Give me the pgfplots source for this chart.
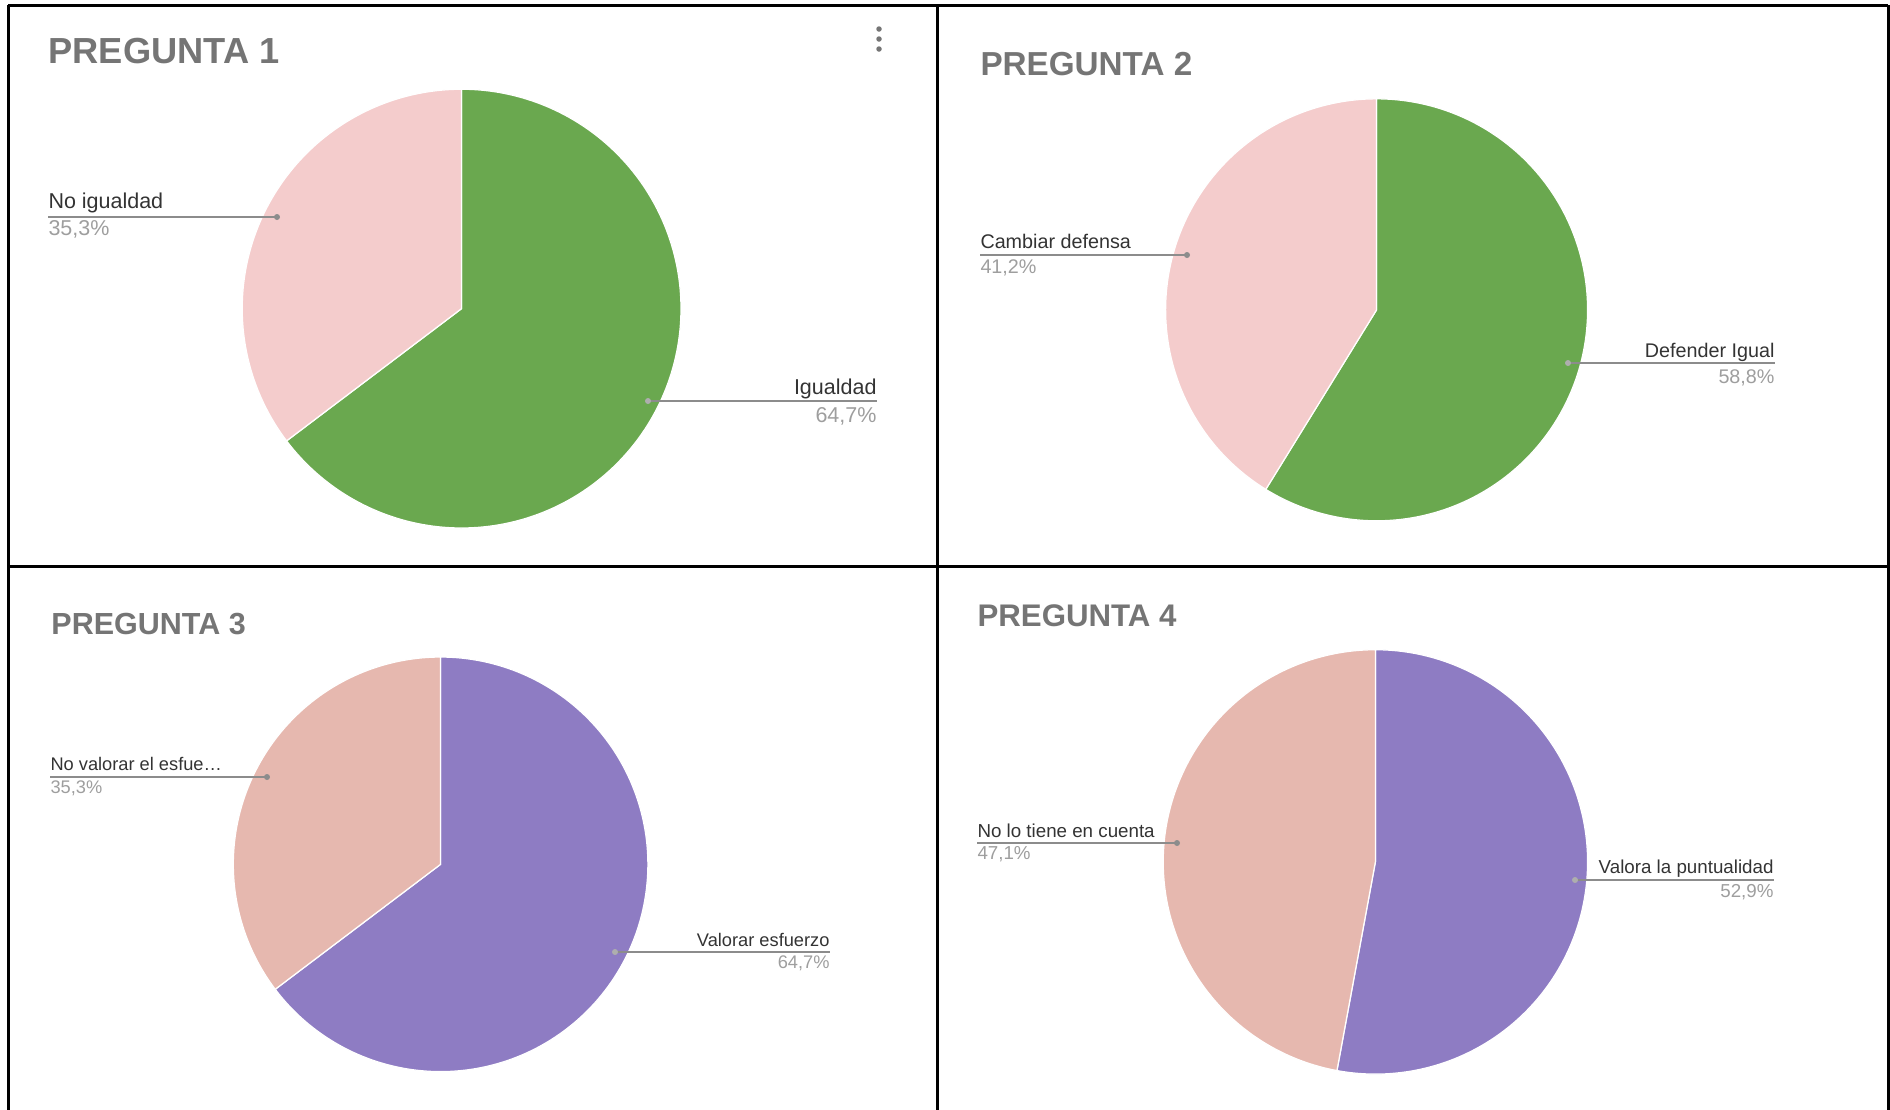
\documentclass[border=0pt]{standalone}
\usepackage{fontspec}
\setmainfont{Liberation Sans}
\usepackage{pgfplots}
\pgfplotsset{compat=1.18}
\definecolor{cgreen}{HTML}{6AA84F}
\definecolor{cpink}{HTML}{F4CCCC}
\definecolor{cpurple}{HTML}{8E7CC3}
\definecolor{csalmon}{HTML}{E6B8AF}
\definecolor{ctitle}{HTML}{757575}
\definecolor{clabel}{HTML}{333333}
\definecolor{cpct}{HTML}{9E9E9E}
\definecolor{cline}{HTML}{8C8C8C}
\tikzset{
  ttl/.style={anchor=base west,inner sep=0pt,text=ctitle,font=\fontsize{#1}{#1}\selectfont\bfseries},
  lbl/.style={inner sep=0pt,text=clabel,font=\fontsize{#1}{#1}\selectfont},
  pct/.style={inner sep=0pt,text=cpct,font=\fontsize{#1}{#1}\selectfont},
  lead/.style={draw=cline,line width=0.8pt},
}
\begin{document}
\begin{tikzpicture}
\path[use as bounding box] (0,0) rectangle (756pt,-444pt);
\begin{axis}[at={(0,0)},anchor=north west,hide axis,x=0.4pt,y=0.4pt,
  xmin=0,xmax=1890,ymin=0,ymax=1110,y dir=reverse,clip=false]
% ---- frame (table grid)
\draw[black,line width=1.2pt] (8,5) -- (1888,5);
\draw[black,line width=1.2pt] (9,5) -- (9,1110);
\draw[black,line width=1.2pt] (937,5) -- (937,1110);
\draw[black,line width=1.2pt] (1888,5) -- (1888,1110);
\draw[black,line width=1.2pt] (9,566) -- (1888,566);
% ---- Pregunta 1: Igualdad 64.7, No igualdad 35.3
\addplot[draw=white,line width=0.5pt,fill=cgreen,domain=90:90-3.6*64.7,samples=160]
  ({461.6+219.4*cos(x)},{308.6-219.4*sin(x)}) -- (461.6,308.6) -- cycle;
\addplot[draw=white,line width=0.5pt,fill=cpink,domain=90-3.6*64.7:-270,samples=100]
  ({461.6+219.4*cos(x)},{308.6-219.4*sin(x)}) -- (461.6,308.6) -- cycle;
% ---- Pregunta 2: Defender Igual 58.8, Cambiar defensa 41.2
\addplot[draw=white,line width=0.5pt,fill=cgreen,domain=90:90-3.6*58.8,samples=160]
  ({1376.6+211*cos(x)},{309.8-211*sin(x)}) -- (1376.6,309.8) -- cycle;
\addplot[draw=white,line width=0.5pt,fill=cpink,domain=90-3.6*58.8:-270,samples=100]
  ({1376.6+211*cos(x)},{309.8-211*sin(x)}) -- (1376.6,309.8) -- cycle;
% ---- Pregunta 3: Valorar esfuerzo 64.7, No valorar 35.3
\addplot[draw=white,line width=0.5pt,fill=cpurple,domain=90:90-3.6*64.7,samples=160]
  ({440.6+207.3*cos(x)},{864.3-207.3*sin(x)}) -- (440.6,864.3) -- cycle;
\addplot[draw=white,line width=0.5pt,fill=csalmon,domain=90-3.6*64.7:-270,samples=100]
  ({440.6+207.3*cos(x)},{864.3-207.3*sin(x)}) -- (440.6,864.3) -- cycle;
% ---- Pregunta 4: Valora la puntualidad 52.9, No lo tiene en cuenta 47.1
\addplot[draw=white,line width=0.5pt,fill=cpurple,domain=90:90-3.6*52.9,samples=160]
  ({1375.4+212.2*cos(x)},{861.9-212.2*sin(x)}) -- (1375.4,861.9) -- cycle;
\addplot[draw=white,line width=0.5pt,fill=csalmon,domain=90-3.6*52.9:-270,samples=140]
  ({1375.4+212.2*cos(x)},{861.9-212.2*sin(x)}) -- (1375.4,861.9) -- cycle;
% ---- titles
\node[ttl=14.5] at (48,63) {PREGUNTA 1};
\node[ttl=13.3] at (980,75) {PREGUNTA 2};
\node[ttl=12.2] at (51,634) {PREGUNTA 3};
\node[ttl=12.5] at (977,626) {PREGUNTA 4};
% menu dots
\fill[ctitle] (879,29) circle[radius=1.1pt];
\fill[ctitle] (879,39) circle[radius=1.1pt];
\fill[ctitle] (879,49) circle[radius=1.1pt];
% ---- labels P1
\draw[lead] (48,217) -- (277,217); \fill[cline] (277,217) circle[radius=1.2pt];
\node[lbl=8.6,anchor=base west] at (48,208) {No igualdad};
\node[pct=8.6,anchor=base west] at (48,235) {35,3\%};
\draw[lead] (648,401) -- (877,401); \fill[cline!70] (648,401) circle[radius=1.2pt];
\node[lbl=8.6,anchor=base east] at (877,394) {Igualdad};
\node[pct=8.6,anchor=base east] at (877,422) {64,7\%};
% ---- labels P2
\draw[lead] (980,255) -- (1187,255); \fill[cline] (1187,255) circle[radius=1.2pt];
\node[lbl=7.9,anchor=base west] at (980,248) {Cambiar defensa};
\node[pct=7.9,anchor=base west] at (980,273) {41,2\%};
\draw[lead] (1568,363) -- (1775,363); \fill[cline!70] (1568,363) circle[radius=1.2pt];
\node[lbl=7.9,anchor=base east] at (1775,357) {Defender Igual};
\node[pct=7.9,anchor=base east] at (1775,383) {58,8\%};
% ---- labels P3
\draw[lead] (50,777) -- (267,777); \fill[cline] (267,777) circle[radius=1.2pt];
\node[lbl=7.3,anchor=base west] at (50,770) {No valorar el esfue…};
\node[pct=7.3,anchor=base west] at (50,793) {35,3\%};
\draw[lead] (615,952) -- (830,952); \fill[cline!70] (615,952) circle[radius=1.2pt];
\node[lbl=7.3,anchor=base east] at (830,946) {Valorar esfuerzo};
\node[pct=7.3,anchor=base east] at (830,968) {64,7\%};
% ---- labels P4
\draw[lead] (977,843) -- (1177,843); \fill[cline] (1177,843) circle[radius=1.2pt];
\node[lbl=7.5,anchor=base west] at (977,837) {No lo tiene en cuenta};
\node[pct=7.5,anchor=base west] at (977,859) {47,1\%};
\draw[lead] (1575,880) -- (1774,880); \fill[cline!70] (1575,880) circle[radius=1.2pt];
\node[lbl=7.5,anchor=base east] at (1774,873) {Valora la puntualidad};
\node[pct=7.5,anchor=base east] at (1774,897) {52,9\%};
\end{axis}
\end{tikzpicture}
\end{document}
